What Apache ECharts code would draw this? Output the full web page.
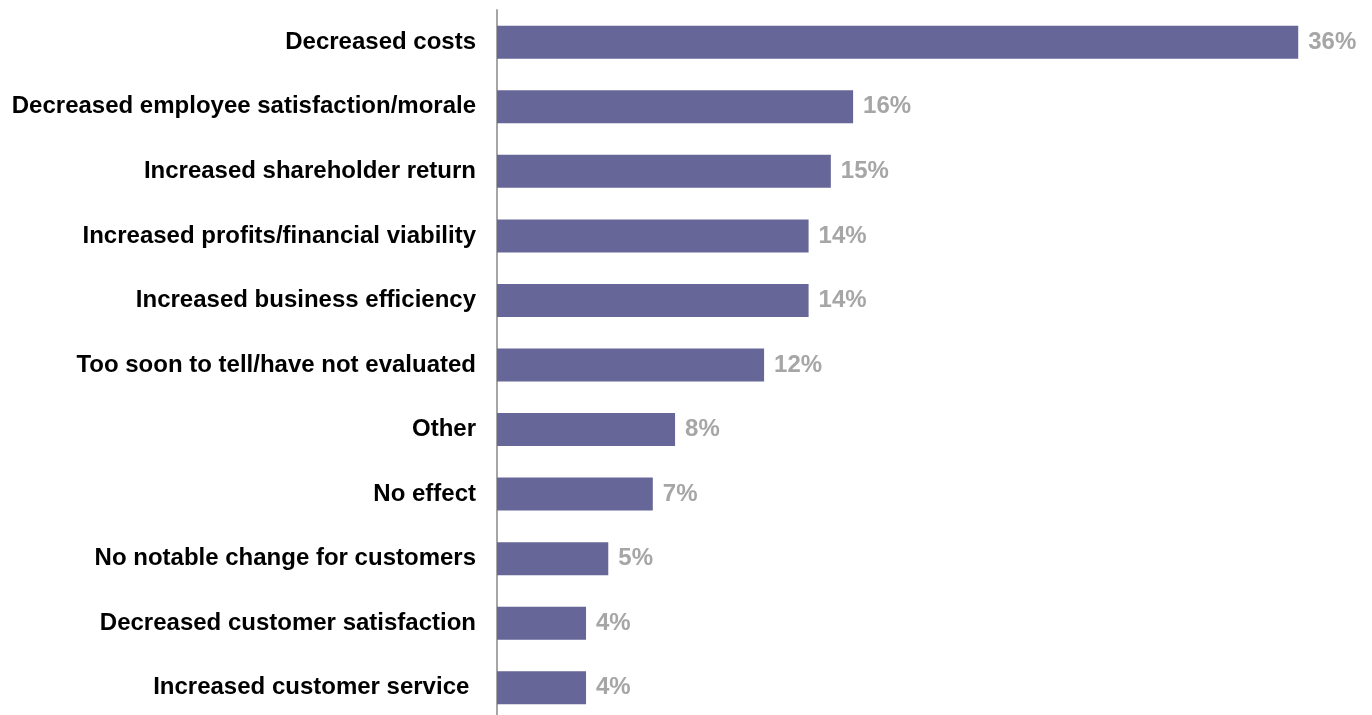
<!DOCTYPE html>
<html>
<head>
<meta charset="utf-8">
<style>
  html, body { margin: 0; padding: 0; background: #ffffff; overflow: hidden; }
  #chart { width: 1372px; height: 720px; }
</style>
<script src="https://cdn.jsdelivr.net/npm/echarts@6/dist/echarts.min.js"></script>
</head>
<body>
<div id="chart"></div>
<script>
// Reported effects, listed top to bottom
const categories = [
  'Decreased costs',
  'Decreased employee satisfaction/morale',
  'Increased shareholder return',
  'Increased profits/financial viability',
  'Increased business efficiency',
  'Too soon to tell/have not evaluated',
  'Other',
  'No effect',
  'No notable change for customers',
  'Decreased customer satisfaction',
  'Increased customer service '
];
// Share of respondents, percent
const values = [36, 16, 15, 14, 14, 12, 8, 7, 5, 4, 4];

const chart = echarts.init(document.getElementById('chart'), null, { renderer: 'canvas' });

chart.setOption({
  animation: false,
  grid: { left: 497, right: 7, top: 10, bottom: 0, containLabel: false },
  xAxis: {
    type: 'value',
    min: 0,
    max: 39,
    show: false
  },
  yAxis: {
    type: 'category',
    inverse: true,
    data: categories,
    axisLine: { show: true, lineStyle: { color: '#a6a6a6', width: 2 } },
    axisTick: { show: false },
    axisLabel: {
      margin: 21,
      color: '#000000',
      fontFamily: 'Liberation Sans, Arial, sans-serif',
      fontWeight: 'bold',
      fontSize: 24
    }
  },
  series: [{
    type: 'bar',
    data: values,
    barWidth: 33,
    itemStyle: { color: '#666699' },
    label: {
      show: true,
      position: 'right',
      distance: 10,
      formatter: '{c}%',
      color: '#a6a6a6',
      fontFamily: 'Liberation Sans, Arial, sans-serif',
      fontWeight: 'bold',
      fontSize: 24
    }
  }]
});
</script>
</body>
</html>
